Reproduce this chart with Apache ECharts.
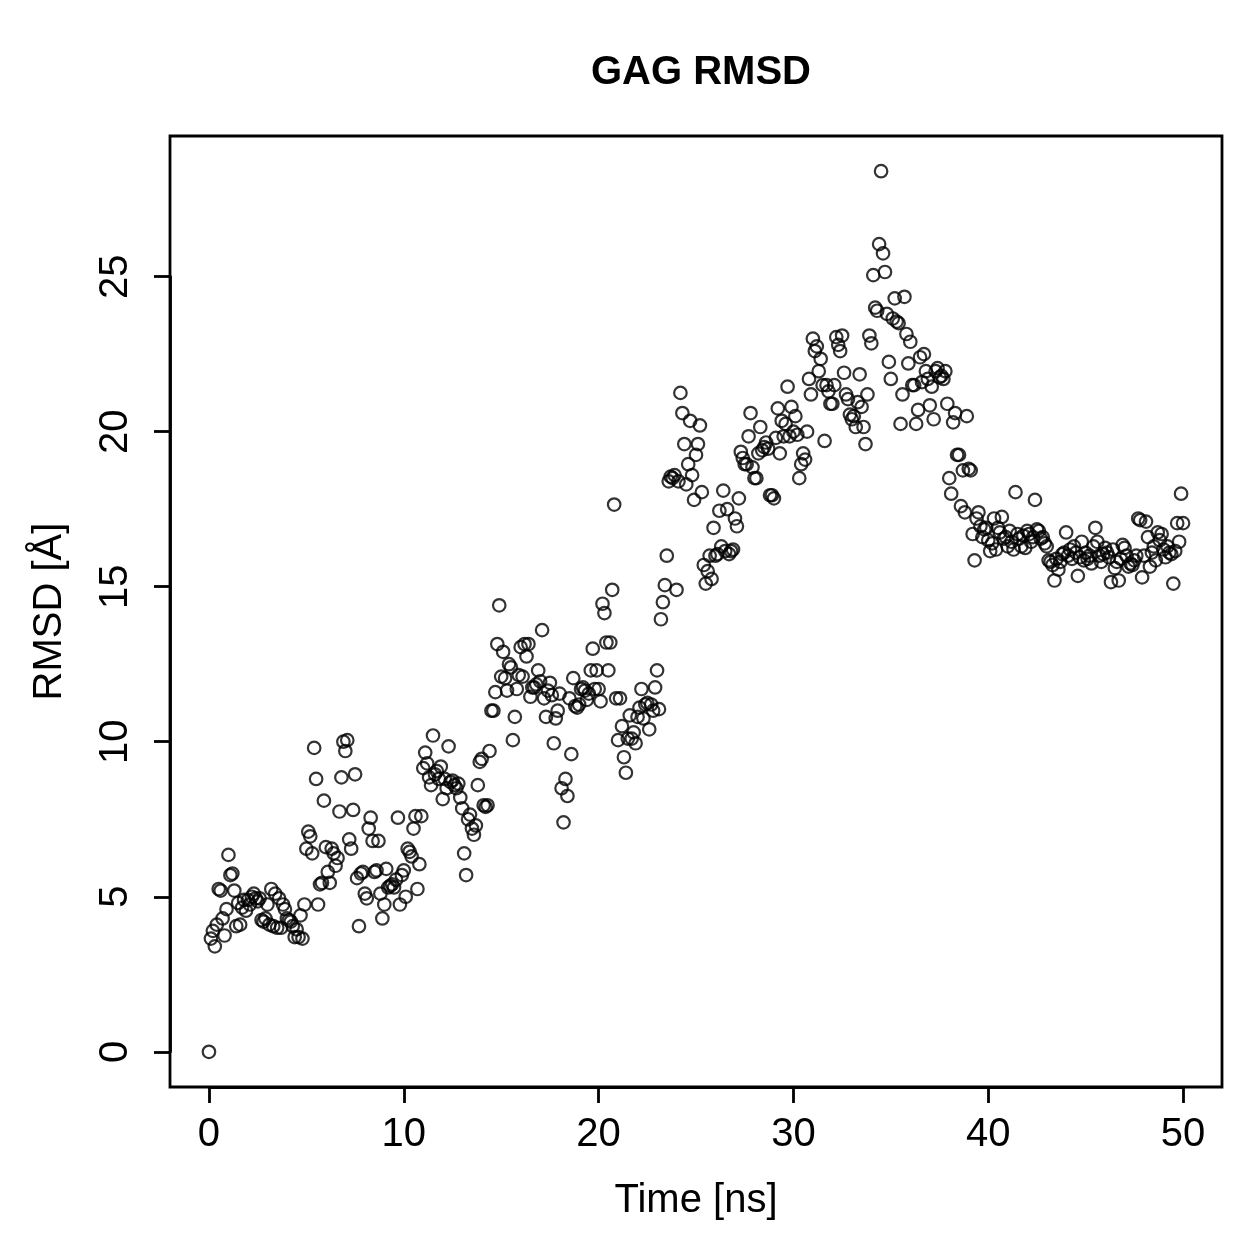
<!DOCTYPE html>
<html>
<head>
<meta charset="utf-8">
<title>GAG RMSD</title>
<script src="https://cdn.jsdelivr.net/npm/echarts@6.0.0/dist/echarts.min.js"></script>
<style>
  html, body { margin: 0; padding: 0; background: #fff; }
  #main { width: 1259px; height: 1259px; }
</style>
</head>
<body>
<div id="main"></div>
<script>
// RMSD every 0.1 ns in blocks of about 5 ns
var rmsd0 = [0, 3.65, 3.9, 3.4, 4.1, 5.25, 5.2, 4.3, 3.75, 4.6,
  6.35, 5.7, 5.75, 5.2, 4.05, 4.8, 4.1, 4.65, 4.9, 4.55,
  4.9, 4.75, 5.0, 5.1, 4.95, 4.85, 4.95, 4.25, 4.2, 4.3,
  4.75, 4.1, 5.25, 4.05, 5.1, 4.0, 4.95, 4.0, 4.75, 4.6,
  4.3, 4.25, 4.2, 4.05, 3.7, 3.95, 3.7, 4.4, 3.65, 4.75];
var rmsd5 = [6.55, 7.1, 6.95, 6.4, 9.8, 8.8, 4.75, 5.4, 5.45, 8.1,
  6.6, 5.8, 5.45, 6.55, 6.4, 6.0, 6.25, 7.75, 8.85, 10.0,
  9.7, 10.05, 6.85, 6.55, 7.8, 8.95, 5.6, 4.05, 5.75, 5.8,
  5.1, 4.95, 7.2, 7.55, 6.8, 5.8, 5.85, 6.8, 5.1, 4.3,
  4.75, 5.9, 5.3, 5.35, 5.4, 5.3, 5.55, 7.55, 4.75, 5.7];
var rmsd10 = [5.85, 5.0, 6.55, 6.45, 6.3, 7.2, 7.6, 5.25, 6.05, 7.6,
  9.15, 9.65, 9.3, 8.85, 8.6, 10.2, 8.95, 9.05, 8.8, 9.2, 8.15,
  8.8, 8.5, 9.85, 8.7, 8.75, 8.6, 8.5, 8.65, 8.2, 7.85, 6.4,
  5.7, 7.5, 7.65, 7.2, 7.0, 7.3, 8.6, 9.35, 9.45, 7.95, 7.9,
  7.95, 9.7, 11.0, 11.0, 11.6, 13.15, 14.4, 12.1, 12.9, 12.05];
var rmsd15 = [11.65, 12.5, 12.4, 10.05, 10.8, 11.7, 12.15, 13.05, 12.1, 13.15,
  12.75, 13.15, 11.45, 11.75, 11.75, 11.85, 12.3, 11.95, 13.6, 11.4, 10.8,
  11.65, 11.9, 11.5, 9.95, 10.75, 11.0, 11.55, 8.5, 7.4, 8.8,
  8.25, 11.4, 9.6, 12.05, 11.15, 11.1, 11.2, 11.7, 11.75, 11.65,
  11.35, 11.55, 12.3, 13.0, 11.7, 12.3, 11.7, 11.3, 14.45, 14.15];
var rmsd20 = [13.2, 12.3, 13.2, 14.9, 17.65, 11.4, 10.05, 11.4, 10.5, 9.5,
  9.0, 10.1, 10.85, 10.1, 10.3, 9.95, 10.8, 11.1, 11.7, 10.75, 11.2,
  11.25, 10.4, 11.2, 11.0, 11.75, 12.3, 11.05, 13.95, 14.5, 15.05,
  16.0, 18.4, 18.55, 18.5, 18.6, 14.9, 18.4, 21.25, 20.6, 19.6, 18.3,
  18.95, 20.35, 18.6, 17.8, 19.25, 19.6, 20.2, 18.05, 15.7, 15.1];
var rmsd25 = [15.5, 16.0, 15.25, 16.9, 16.0, 16.05, 17.45, 16.3, 18.1, 16.15,
  17.5, 16.05, 16.15, 16.2, 17.2, 16.95, 17.85, 19.35, 19.15, 18.95,
  18.95, 19.85, 20.6, 18.85, 18.5, 18.5, 19.3, 20.15, 19.4, 19.5,
  19.65, 19.45, 17.95, 17.95, 17.85, 19.8, 20.75, 19.3, 20.35, 19.85,
  20.25, 21.45, 19.85, 20.8, 20.0, 20.5, 19.9, 18.5, 18.95, 19.3];
var rmsd30 = [19.1, 20.0, 21.7, 21.2, 23.0, 22.6, 22.75, 21.95, 22.35, 21.5,
  19.7, 21.5, 21.3, 20.9, 20.9, 21.5, 23.05, 22.8, 22.6, 23.1, 21.9,
  21.2, 21.05, 20.55, 20.4, 20.5, 20.15, 20.95, 21.85, 20.8, 20.15, 19.6,
  21.2, 23.1, 22.85, 25.05, 24.0, 23.9, 26.05, 28.4, 25.75, 25.15,
  23.8, 22.25, 21.7, 23.65, 24.3, 23.55, 23.5, 20.25, 21.2, 24.35];
var rmsd35 = [23.15, 22.2, 22.9, 21.5, 21.5, 20.25, 20.7, 22.4, 21.6, 22.5,
  21.95, 21.7, 20.85, 21.45, 20.4, 21.95, 22.05, 21.75, 21.8, 21.7, 21.95,
  20.9, 18.5, 18.0, 20.3, 20.6, 19.25, 19.25, 17.6, 18.75, 17.4,
  20.5, 18.8, 18.75, 16.7, 15.85, 17.2, 17.4, 16.95, 16.6, 16.85,
  16.9, 16.5, 16.15, 16.4, 17.2, 16.2, 16.9, 16.75, 17.25, 16.55];
var rmsd41 = [16.6, 16.3, 16.8, 16.45, 16.2, 18.05, 16.7, 16.55, 16.3, 16.65,
  16.25, 16.8, 16.7, 16.45, 16.6, 17.8, 16.85, 16.8, 16.55, 16.6,
  16.4, 16.3, 15.85, 15.8, 15.7, 15.2, 15.9, 15.55, 15.8, 16.05,
  16.1, 16.75, 16.0, 16.2, 15.9, 16.3, 16.1, 15.35, 15.95, 16.45,
  15.85];
var rmsd45 = [16.1, 15.9, 16.0, 15.75, 16.3, 16.9, 16.45, 16.0, 15.8, 16.05,
  16.25, 16.1, 15.95, 15.15, 16.2, 15.6, 15.8, 15.2, 15.9, 16.35,
  16.25, 16.0, 15.65, 15.75, 15.7, 15.85, 16.0, 17.2, 17.15, 15.3,
  16.0, 17.1, 16.6, 15.65, 16.1, 16.3, 15.85, 16.75, 16.5, 16.7,
  16.2, 15.95, 16.3, 16.1, 16.05, 15.1, 16.15, 17.05, 16.45, 18.0,
  17.05];

var rmsd = [].concat(rmsd0, rmsd5, rmsd10, rmsd15, rmsd20, rmsd25, rmsd30, rmsd35, rmsd41, rmsd45);
var timeStep = 0.1; // ns between frames

// axis ranges: data range padded by 4% like R does
var xRange = [-2, 52];
var yRange = [-1.136, 29.536];
var xTickRange = [0, 50], xStep = 10;
var yTickRange = [0, 25], yStep = 5;

var points = rmsd.map(function (v, i) {
  return [Math.round(i * timeStep * 10) / 10, v];
});

var FONT = 'Liberation Sans, Arial, Helvetica, sans-serif';
var W = 1259, H = 1259;
var box = { left: 170, right: 37, top: 136, bottom: 172 };
var boxW = W - box.left - box.right, boxH = H - box.top - box.bottom;

// second grid sits exactly on the tick range, its axes get pushed out to the box edge
var inLeft = box.left + (xTickRange[0] - xRange[0]) / (xRange[1] - xRange[0]) * boxW;
var inRight = box.right + (xRange[1] - xTickRange[1]) / (xRange[1] - xRange[0]) * boxW;
var inTop = box.top + (yRange[1] - yTickRange[1]) / (yRange[1] - yRange[0]) * boxH;
var inBottom = box.bottom + (yTickRange[0] - yRange[0]) / (yRange[1] - yRange[0]) * boxH;

var lineStyle = { color: '#000', width: 2.8 };
var txt = { fontFamily: FONT, fontSize: 40, color: '#000' };

var myChart = echarts.init(document.getElementById('main'));
myChart.setOption({
  backgroundColor: '#fff',
  animation: false,
  title: {
    text: 'GAG RMSD',
    left: 696,
    top: 48,
    textAlign: 'center',
    textStyle: { fontFamily: FONT, fontSize: 40, fontWeight: 'bold', color: '#000' }
  },
  grid: [
    { left: box.left, right: box.right, top: box.top, bottom: box.bottom,
      show: true, borderColor: '#000', borderWidth: 2.8, backgroundColor: 'transparent' },
    { left: inLeft, right: inRight, top: inTop, bottom: inBottom, show: false }
  ],
  xAxis: [
    // data axis, only carries the title
    { gridIndex: 0, type: 'value', min: xRange[0], max: xRange[1], position: 'bottom',
      name: 'Time [ns]', nameLocation: 'middle', nameGap: 94, nameTextStyle: txt,
      axisLine: { show: false, onZero: false }, axisTick: { show: false },
      axisLabel: { show: false }, splitLine: { show: false } },
    // tick axis
    { gridIndex: 1, type: 'value', min: xTickRange[0], max: xTickRange[1], interval: xStep,
      position: 'bottom', offset: inBottom - box.bottom,
      axisLine: { show: true, onZero: false, lineStyle: lineStyle },
      splitLine: { show: false },
      axisTick: { show: true, length: 16, lineStyle: lineStyle },
      axisLabel: Object.assign({ margin: 28 }, txt) }
  ],
  yAxis: [
    { gridIndex: 0, type: 'value', min: yRange[0], max: yRange[1], position: 'left',
      name: 'RMSD [Å]', nameLocation: 'middle', nameRotate: 90, nameGap: 100, nameTextStyle: txt,
      axisLine: { show: false, onZero: false }, axisTick: { show: false },
      axisLabel: { show: false }, splitLine: { show: false } },
    { gridIndex: 1, type: 'value', min: yTickRange[0], max: yTickRange[1], interval: yStep,
      position: 'left', offset: inLeft - box.left,
      axisLine: { show: true, onZero: false, lineStyle: lineStyle },
      splitLine: { show: false },
      axisTick: { show: true, length: 16, lineStyle: lineStyle },
      axisLabel: Object.assign({ margin: 34, rotate: 90 }, txt) }
  ],
  series: [{
    type: 'scatter',
    xAxisIndex: 0,
    yAxisIndex: 0,
    data: points,
    symbol: 'circle',
    symbolSize: 12.5,
    itemStyle: { color: 'rgba(0,0,0,0)', borderColor: '#000', borderWidth: 2.2 },
    emphasis: { disabled: true }
  }]
});
</script>
</body>
</html>
